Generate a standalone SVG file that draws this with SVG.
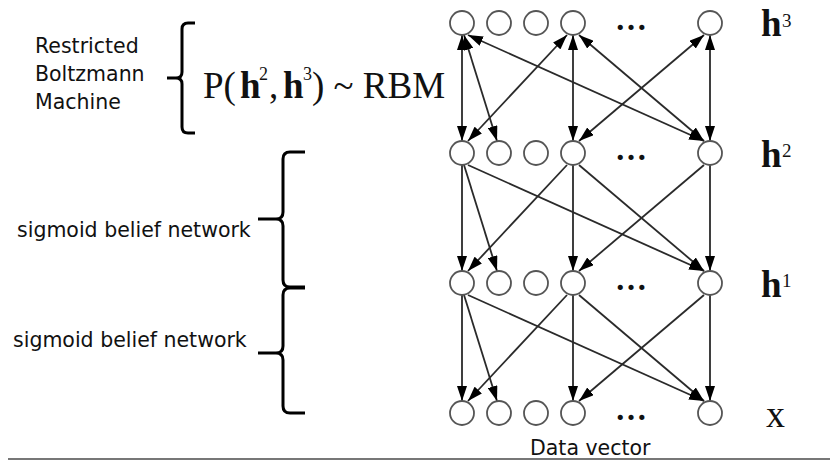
<svg xmlns="http://www.w3.org/2000/svg" width="830" height="460" viewBox="0 0 830 460">
<defs>
<style>
.n{fill:#fff;stroke:#555;stroke-width:1.8}
.e{stroke:#2a2a2a;stroke-width:1.8;fill:none;marker-end:url(#ah)}
.b{marker-start:url(#ah)}
.br{fill:none;stroke:#000;stroke-width:3}
.lab{font-family:"DejaVu Sans",Verdana,sans-serif;font-size:20.5px;fill:#111}
.ser{font-family:"Liberation Serif","Times New Roman",serif;fill:#111}
.hb{font-weight:bold}
.dots{font-family:"Liberation Serif",serif;font-size:32px;font-weight:bold;fill:#111}
</style>
<marker id="ah" markerUnits="userSpaceOnUse" markerWidth="15" markerHeight="10" refX="15" refY="5" orient="auto-start-reverse">
<path d="M0,0 L15,5 L0,10 z" fill="#000"/>
</marker>
</defs>
<rect width="830" height="460" fill="#fff"/>

<g id="connectors">
<g id="rbm-edges">
<line class="e b" x1="462" y1="35" x2="462" y2="141"/>
<line class="e b" x1="464" y1="35" x2="497" y2="141"/>
<line class="e b" x1="468" y1="35" x2="704" y2="141"/>
<line class="e b" x1="567" y1="35" x2="468" y2="141"/>
<line class="e b" x1="573" y1="35" x2="573" y2="141"/>
<line class="e b" x1="579" y1="35" x2="704" y2="141"/>
<line class="e b" x1="704" y1="35" x2="579" y2="141"/>
<line class="e b" x1="710" y1="35" x2="710" y2="141"/>
</g>
<g id="h2-h1-edges">
<line class="e" x1="462" y1="165" x2="462" y2="271"/>
<line class="e" x1="464" y1="165" x2="497" y2="271"/>
<line class="e" x1="468" y1="165" x2="704" y2="271"/>
<line class="e" x1="567" y1="165" x2="468" y2="271"/>
<line class="e" x1="573" y1="165" x2="573" y2="271"/>
<line class="e" x1="579" y1="165" x2="704" y2="271"/>
<line class="e" x1="704" y1="165" x2="579" y2="271"/>
<line class="e" x1="710" y1="165" x2="710" y2="271"/>
</g>
<g id="h1-x-edges">
<line class="e" x1="462" y1="295" x2="462" y2="401"/>
<line class="e" x1="464" y1="295" x2="497" y2="401"/>
<line class="e" x1="468" y1="295" x2="704" y2="401"/>
<line class="e" x1="567" y1="295" x2="468" y2="401"/>
<line class="e" x1="573" y1="295" x2="573" y2="401"/>
<line class="e" x1="579" y1="295" x2="704" y2="401"/>
<line class="e" x1="704" y1="295" x2="579" y2="401"/>
<line class="e" x1="710" y1="295" x2="710" y2="401"/>
</g>
</g>

<g id="layer-h3">
<circle class="n" cx="462" cy="23" r="12"/>
<circle class="n" cx="499" cy="23" r="12"/>
<circle class="n" cx="536" cy="23" r="12"/>
<circle class="n" cx="573" cy="23" r="12"/>
<text class="dots" x="615" y="30">…</text>
<circle class="n" cx="710" cy="23" r="12"/>
<text class="ser" x="761" y="36" font-size="37"><tspan class="hb">h</tspan><tspan x="782" y="27" font-size="19">3</tspan></text>
</g>
<g id="layer-h2">
<circle class="n" cx="462" cy="153" r="12"/>
<circle class="n" cx="499" cy="153" r="12"/>
<circle class="n" cx="536" cy="153" r="12"/>
<circle class="n" cx="573" cy="153" r="12"/>
<text class="dots" x="615" y="160">…</text>
<circle class="n" cx="710" cy="153" r="12"/>
<text class="ser" x="761" y="167" font-size="37"><tspan class="hb">h</tspan><tspan x="782" y="157" font-size="19">2</tspan></text>
</g>
<g id="layer-h1">
<circle class="n" cx="462" cy="283" r="12"/>
<circle class="n" cx="499" cy="283" r="12"/>
<circle class="n" cx="536" cy="283" r="12"/>
<circle class="n" cx="573" cy="283" r="12"/>
<text class="dots" x="615" y="290">…</text>
<circle class="n" cx="710" cy="283" r="12"/>
<text class="ser" x="761" y="297" font-size="37"><tspan class="hb">h</tspan><tspan x="782" y="287" font-size="19">1</tspan></text>
</g>
<g id="layer-x">
<circle class="n" cx="462" cy="413" r="12"/>
<circle class="n" cx="499" cy="413" r="12"/>
<circle class="n" cx="536" cy="413" r="12"/>
<circle class="n" cx="573" cy="413" r="12"/>
<text class="dots" x="615" y="420">…</text>
<circle class="n" cx="710" cy="413" r="12"/>
<text class="ser" x="766" y="427" font-size="38">x</text>
<text class="lab" x="530" y="455">Data vector</text>
</g>

<g id="rbm-label">
<text class="lab"><tspan x="35" y="53">Restricted</tspan><tspan x="35" y="81">Boltzmann</tspan><tspan x="35" y="109">Machine</tspan></text>
<path class="br" d="M195,23 L188,23 Q182,23 182,29 L182,72 Q182,78 176,78 L167,78 M176,78 Q182,78 182,84 L182,127 Q182,133 188,133 L195,133"/>
<text class="ser" y="98" font-size="37"><tspan x="203">P(</tspan><tspan x="240" class="hb">h</tspan><tspan x="259" y="80" font-size="18">2</tspan><tspan x="269" y="98">,</tspan><tspan x="283" class="hb">h</tspan><tspan x="303" y="80" font-size="18">3</tspan><tspan x="312" y="98">) ~ RBM</tspan></text>
</g>

<g id="sbn-upper">
<text class="lab" x="17" y="237">sigmoid belief network</text>
<path class="br" d="M305,152 L290,152 Q283,152 283,159 L283,212 Q283,219 276,219 L258,219 M276,219 Q283,219 283,226 L283,280 Q283,287 290,287 L305,287"/>
</g>
<g id="sbn-lower">
<text class="lab" x="13" y="347">sigmoid belief network</text>
<path class="br" d="M305,288 L290,288 Q283,288 283,295 L283,346 Q283,353 276,353 L258,353 M276,353 Q283,353 283,360 L283,406 Q283,413 290,413 L305,413"/>
</g>

<line x1="8" y1="459" x2="830" y2="459" stroke="#777" stroke-width="2"/>
</svg>
